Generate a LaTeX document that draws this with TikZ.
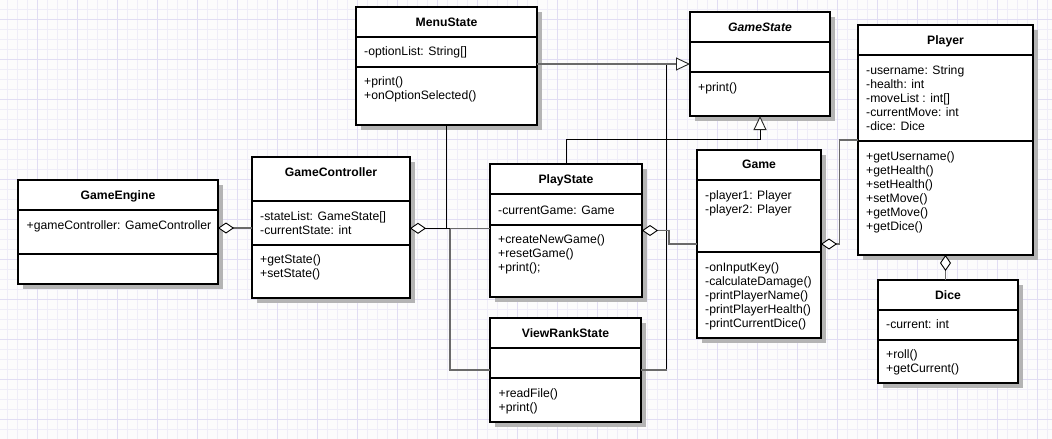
\documentclass[tikz,border=0pt]{standalone}
\usepackage{fontspec}
\setmainfont{Liberation Sans}
\usetikzlibrary{arrows.meta}
\definecolor{gridminor}{HTML}{EFEDF8}
\definecolor{gridmajor}{HTML}{E1DDF3}
\definecolor{conngray}{HTML}{6A6A6A}
\definecolor{shadowgray}{HTML}{B4B4B4}
\definecolor{bgcol}{HTML}{FCFCFC}
\newcommand\umlbox[7]{%
  \fill[shadowgray] (#2+5,#3+5) rectangle (#4+5,#7+5);
  \node[boxshape, minimum width={#4-#2}, minimum height={#7-#3}, anchor=north west] (#1) at (#2,#3) {};
  \draw[boxline] (#2,#5) -- (#4,#5) (#2,#6) -- (#4,#6);
}
\newcommand\umllines[4]{%
  \foreach \t [count=\i] in {#4} {\node[txt] (#1-\i) at (#2,#3+14*\i-14) {\t};}
}
\begin{document}
\begin{tikzpicture}[x=1pt,y=-1pt,
  boxshape/.style={draw=black, line width=1.8pt, fill=white, inner sep=0pt, outer sep=0pt},
  boxline/.style={draw=black, line width=1.8pt},
  txt/.style={anchor=west, inner sep=0pt, text height=8.6pt, text depth=0pt, font=\fontsize{12.2}{14}\selectfont},
  ttl/.style={anchor=center, inner sep=0pt, text height=8.6pt, text depth=0pt, font=\fontsize{12.2}{14}\selectfont\bfseries},
  conn/.style={draw=conngray, line width=1.3pt},
  blk/.style={draw=black, line width=1.3pt},
  thinline/.style={draw=black, line width=0.8pt},
  agg/.style={{Diamond[length=16pt,width=11pt,fill=white,color=black,line width=0.9pt]}-},
  gen/.style={-{Triangle[length=14pt,width=13pt,fill=white,color=black!85,line width=0.9pt]}}
]
\useasboundingbox (0,0) rectangle (1052,439);
\fill[bgcol] (0,0) rectangle (1052,439);
\foreach \x in {7.3,17.3,...,1052} \draw[gridminor, line width=0.7pt] (\x,0) -- (\x,439);
\foreach \y in {9.3,19.3,...,439} \draw[gridminor, line width=0.7pt] (0,\y) -- (1052,\y);
\foreach \x in {37.3,77.3,...,1052} \draw[gridmajor, line width=0.9pt] (\x,0) -- (\x,439);
\foreach \y in {19.3,59.3,...,439} \draw[gridmajor, line width=0.9pt] (0,\y) -- (1052,\y);

% boxes
\umlbox{ge}{18}{180}{218}{210}{254}{284}
\umlbox{gc}{252}{157}{410}{201}{245}{298}
\umlbox{ms}{356}{7}{537}{37}{67}{125}
\umlbox{gs}{690}{12}{830}{42}{72}{116}
\umlbox{ps}{490}{164}{642}{194}{225}{297}
\umlbox{vr}{490}{318}{641}{348}{378}{422}
\umlbox{gm}{697}{150}{821}{180}{252}{338}
\umlbox{pl}{858}{25}{1033}{55}{141}{255}
\umlbox{dc}{878}{280}{1018}{310}{340}{383}

% titles
\node[ttl] (ge-t) at (118,195) {GameEngine};
\node[ttl] (gc-t) at (331,172) {GameController};
\node[ttl] (ms-t) at (446.5,22) {MenuState};
\node[ttl, font=\fontsize{12.2}{14}\selectfont\bfseries\itshape] (gs-t) at (760,27) {GameState};
\node[ttl] (ps-t) at (566,179) {PlayState};
\node[ttl] (vr-t) at (565.5,333) {ViewRankState};
\node[ttl] (gm-t) at (759,164.5) {Game};
\node[ttl] (pl-t) at (945.5,40) {Player};
\node[ttl] (dc-t) at (948,295) {Dice};

% members
\umllines{ge-a}{26.5}{225}{+gameController: GameController}
\umllines{gc-a}{260}{216}{-stateList: GameState[], -currentState: int}
\umllines{gc-m}{260}{259.5}{+getState(), +setState()}
\umllines{ms-a}{364}{51.5}{-optionList: String[]}
\umllines{ms-m}{364}{81.5}{+print(), +onOptionSelected()}
\umllines{gs-m}{698}{87}{+print()}
\umllines{ps-a}{498}{210}{-currentGame: Game}
\umllines{ps-m}{498}{239.5}{+createNewGame(), +resetGame(), +print();}
\umllines{vr-m}{498.5}{392.7}{+readFile(), +print()}
\umllines{gm-a}{705}{195}{-player1: Player, -player2: Player}
\umllines{gm-m}{705}{266.7}{-onInputKey(), -calculateDamage(), -printPlayerName(), -printPlayerHealth(), -printCurrentDice()}
\umllines{pl-a}{866}{70}{-username: String, -health: int, -moveList : int[], -currentMove: int, -dice: Dice}
\umllines{pl-m}{866}{156}{+getUsername(), +getHealth(), +setHealth(), +setMove(), +getMove(), +getDice()}
\umllines{dc-a}{886}{324}{-current: int}
\umllines{dc-m}{886}{354}{+roll(), +getCurrent()}

% junction coordinates
\coordinate (jge) at (0,228);
\coordinate (jgc) at (450,228.3);
\coordinate (jvr) at (666.5,370);
\coordinate (jps) at (760,139.5);
\coordinate (jpg) at (669,244);
\coordinate (jgp) at (839.5,140);

% connectors
\draw[conn, agg] (ge.east |- jge) -- (gc.west |- jge);
\draw[thinline] (ms.south) -- (ms.south |- jgc);
\draw[conn] (jgc) -- (ps.west |- jgc);
\draw[conn] (jgc) |- (vr.west);
\draw[blk, agg] (gc.east |- jgc) -- (jgc);
\draw[thinline] (jvr) -- (jvr |- gs.west);
\draw[conn] (vr.east) -- (jvr);
\draw[conn, gen] (ms.east |- gs.west) -- (gs.west);
\draw[thinline, gen] (ps.north) |- (jps) -- (gs.south);
\draw[conn, agg] (ps.east) -| (jpg) -- (gm.west);
\draw[conn, agg] (gm.east) -| (jgp) -- (pl.west);
\draw[conn, agg] (pl.south) -- (pl.south |- dc.north);
\end{tikzpicture}
\end{document}
